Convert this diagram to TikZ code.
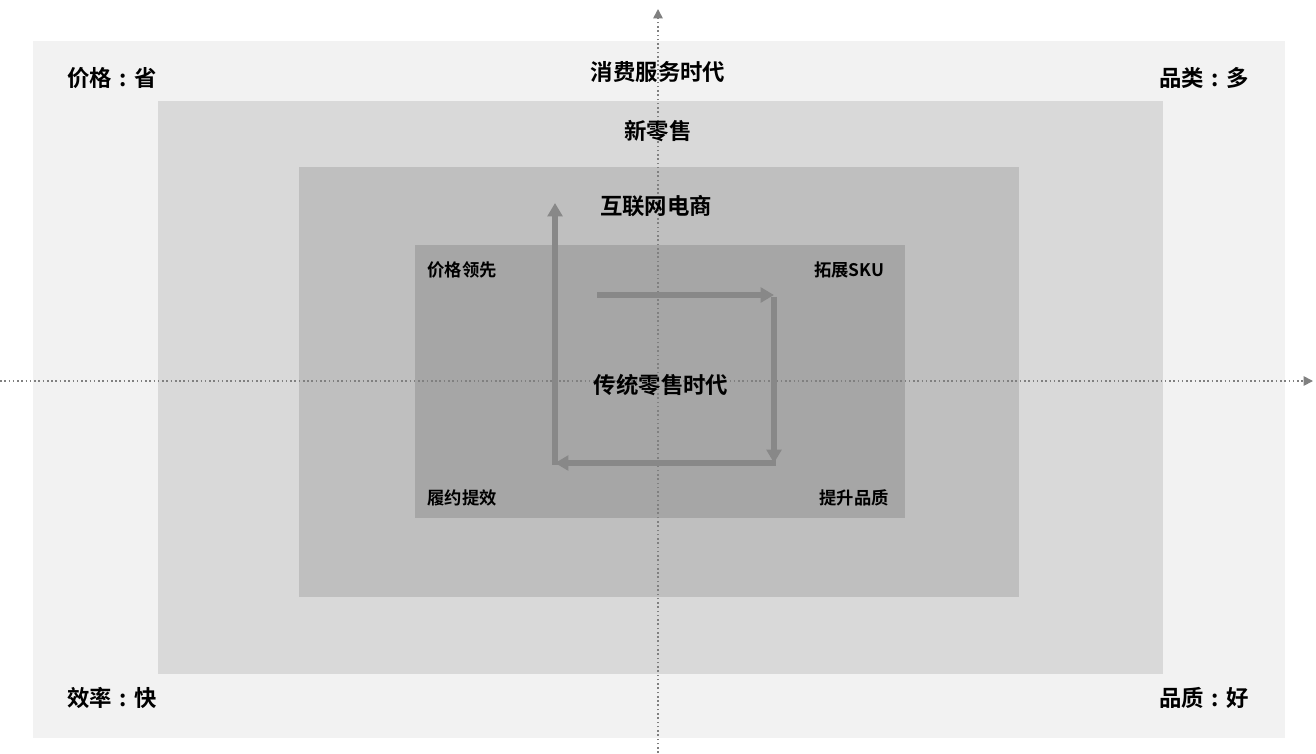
\documentclass[tikz,border=0pt]{standalone}
\usepackage{fontspec}
\setmainfont{Noto Sans CJK SC}[BoldFont={Noto Sans CJK SC Bold}]
\usetikzlibrary{arrows.meta}
\definecolor{bgA}{HTML}{F2F2F2}
\definecolor{bgB}{HTML}{D9D9D9}
\definecolor{bgC}{HTML}{BFBFBF}
\definecolor{bgD}{HTML}{A6A6A6}
\definecolor{axisgray}{HTML}{808080}
\definecolor{flowgray}{HTML}{888888}
\newcommand{\ccolon}{\hspace{0.33em}:\hspace{0.33em}}
\tikzset{
  big/.style={font=\fontsize{16.8}{18}\selectfont\bfseries, text=black, inner sep=0pt},
  small/.style={font=\fontsize{13}{14}\selectfont\bfseries, text=black, inner sep=0pt},
  axisline/.style={draw=axisgray, line width=1.2pt, dotted, -{Triangle[length=7pt,width=7pt]}},
  flow/.style={draw=flowgray, line width=3.8pt, -{Triangle[length=10pt,width=11pt]}},
}
\begin{document}
\begin{tikzpicture}[x=0.75pt,y=-0.75pt]
\useasboundingbox (0,0) rectangle (1316,753);
\fill[white] (0,0) rectangle (1316,753);
\fill[bgA] (33,41) rectangle (1285,738);
\fill[bgB] (158,101) rectangle (1163,674);
\fill[bgC] (299,167) rectangle (1019,597);
\fill[bgD] (415,245) rectangle (905,518);
% axes
\coordinate (hl) at (0,381);
\coordinate (hr) at (1313,381);
\coordinate (vb) at (658,753);
\coordinate (vt) at (658,9);
\draw[axisline] (hl) -- (hr);
\draw[axisline] (vb) -- (vt);
% flow arrows
\coordinate (p1) at (597,295);
\coordinate (p2) at (774,295);
\coordinate (p3) at (774,463);
\coordinate (p4) at (555,463);
\coordinate (p5) at (555,203);
\draw[flow] (p1) -- (p2);
\draw[flow] ([yshift=-1.4pt]p2) -- (p3);
\draw[flow] ([xshift=1.4pt]p3) -- (p4);
\draw[flow] ([yshift=-1.4pt]p4) -- (p5);
% labels
\node[big] (t1) at (658,72) {消费服务时代};
\node[big] (t2) at (658,131) {新零售};
\node[big] (t3) at (656,206) {互联网电商};
\node[big] (t4) at (661,385) {传统零售时代};
\node[big] (c1) at (112,78) {价格\ccolon 省};
\node[big] (c2) at (1204,78) {品类\ccolon 多};
\node[big] (c3) at (112,698) {效率\ccolon 快};
\node[big] (c4) at (1204,698) {品质\ccolon 好};
\node[small] (s1) at (462,270) {价格领先};
\node[small] (s2) at (849,270) {拓展SKU};
\node[small] (s3) at (462,498) {履约提效};
\node[small] (s4) at (854,498) {提升品质};
\end{tikzpicture}
\end{document}
